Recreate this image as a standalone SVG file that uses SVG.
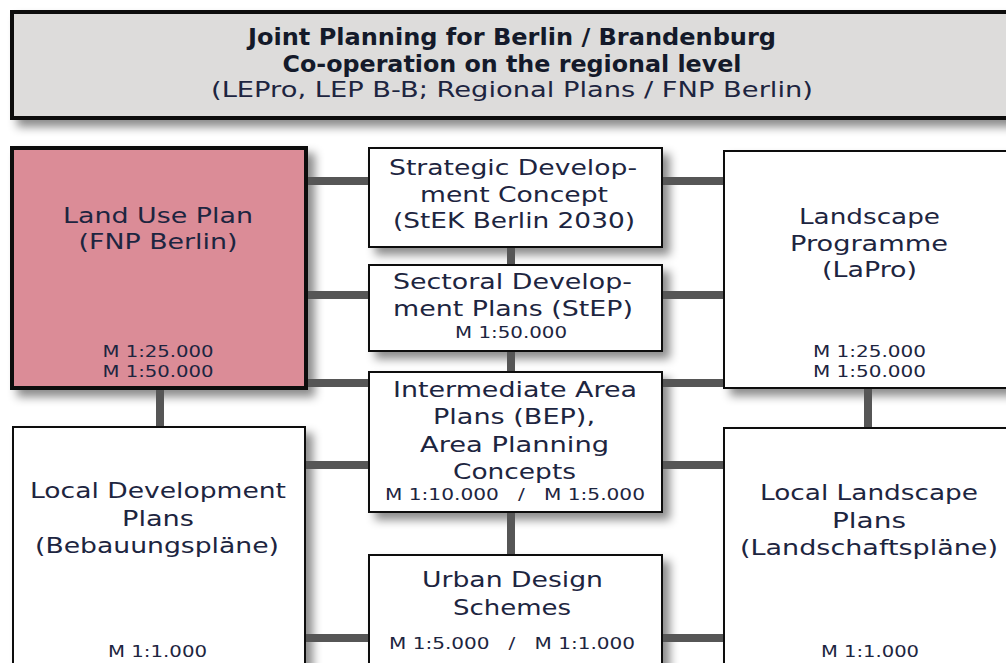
<svg xmlns="http://www.w3.org/2000/svg" width="1006" height="663" viewBox="0 0 1006 663">
  <defs>
    <filter id="shadow" x="-10%" y="-10%" width="130%" height="130%">
      <feDropShadow dx="7" dy="7" stdDeviation="5" flood-color="#000" flood-opacity="0.45"/>
    </filter>
    <style>
      .box { fill: #ffffff; stroke: #111111; stroke-width: 2; filter: url(#shadow); }
      .fnp { fill: #db8c97; stroke: #0a0a0a; stroke-width: 4; filter: url(#shadow); }
      .head { fill: #dddcdb; stroke: #0a0a0a; stroke-width: 4; filter: url(#shadow); }
      .t { font-family: "DejaVu Sans", "Noto Sans", sans-serif; font-size: 22px; fill: #1d2540; text-anchor: middle; }
      .s { font-family: "DejaVu Sans", "Noto Sans", sans-serif; font-size: 16px; fill: #1d2540; text-anchor: middle; white-space: pre; }
      .hb { font-family: "DejaVu Sans", "Noto Sans", sans-serif; font-size: 23px; font-weight: bold; fill: #141a2a; text-anchor: middle; }
      .hr { font-family: "DejaVu Sans", "Noto Sans", sans-serif; font-size: 21px; fill: #1d2540; text-anchor: middle; }
      .link { stroke: #565656; stroke-width: 8; fill: none; }
    </style>
  </defs>

  <rect width="1006" height="663" fill="#ffffff"/>

  <!-- Regional level header -->
  <g id="header">
    <rect class="head" x="12" y="12" width="1010" height="106"/>
    <text class="hb" x="512" y="45" textLength="528" lengthAdjust="spacingAndGlyphs">Joint Planning for Berlin / Brandenburg</text>
    <text class="hb" x="512" y="72" textLength="459" lengthAdjust="spacingAndGlyphs">Co-operation on the regional level</text>
    <text class="hr" x="512" y="97" textLength="602" lengthAdjust="spacingAndGlyphs">(LEPro, LEP B-B; Regional Plans / FNP Berlin)</text>
  </g>

  <!-- Left column -->
  <g id="fnp">
    <rect class="fnp" x="12" y="148" width="294" height="240"/>
    <text class="t" x="158" y="223" textLength="190" lengthAdjust="spacingAndGlyphs">Land Use Plan</text>
    <text class="t" x="158" y="249" textLength="159" lengthAdjust="spacingAndGlyphs">(FNP Berlin)</text>
    <text class="s" x="158" y="357" textLength="111" lengthAdjust="spacingAndGlyphs">M 1:25.000</text>
    <text class="s" x="158" y="377" textLength="111" lengthAdjust="spacingAndGlyphs">M 1:50.000</text>
  </g>

  <g id="bplan">
    <rect class="box" x="13" y="427" width="292" height="250"/>
    <text class="t" x="158" y="498" textLength="256" lengthAdjust="spacingAndGlyphs">Local Development</text>
    <text class="t" x="158" y="526" textLength="72" lengthAdjust="spacingAndGlyphs">Plans</text>
    <text class="t" x="157" y="553" textLength="244" lengthAdjust="spacingAndGlyphs">(Bebauungspläne)</text>
    <text class="s" x="157.5" y="657" textLength="99" lengthAdjust="spacingAndGlyphs">M 1:1.000</text>
  </g>

  <!-- Middle column -->
  <g id="stek">
    <rect class="box" x="369" y="148" width="293" height="99"/>
    <text class="t" x="513" y="175" textLength="248" lengthAdjust="spacingAndGlyphs">Strategic Develop-</text>
    <text class="t" x="514" y="202" textLength="188" lengthAdjust="spacingAndGlyphs">ment Concept</text>
    <text class="t" x="514" y="228" textLength="242" lengthAdjust="spacingAndGlyphs">(StEK Berlin 2030)</text>
  </g>

  <g id="step">
    <rect class="box" x="369" y="265" width="293" height="86"/>
    <text class="t" x="512.5" y="289" textLength="239" lengthAdjust="spacingAndGlyphs">Sectoral Develop-</text>
    <text class="t" x="513" y="316" textLength="240" lengthAdjust="spacingAndGlyphs">ment Plans (StEP)</text>
    <text class="s" x="511" y="338" textLength="112" lengthAdjust="spacingAndGlyphs">M 1:50.000</text>
  </g>

  <g id="bep">
    <rect class="box" x="369" y="372" width="293" height="140"/>
    <text class="t" x="515" y="397" textLength="244" lengthAdjust="spacingAndGlyphs">Intermediate Area</text>
    <text class="t" x="514" y="424" textLength="162" lengthAdjust="spacingAndGlyphs">Plans (BEP),</text>
    <text class="t" x="514.5" y="452" textLength="189" lengthAdjust="spacingAndGlyphs">Area Planning</text>
    <text class="t" x="514.5" y="479" textLength="123" lengthAdjust="spacingAndGlyphs">Concepts</text>
    <text class="s" x="515" y="500" textLength="260" lengthAdjust="spacingAndGlyphs">M 1:10.000   /   M 1:5.000</text>
  </g>

  <g id="urban">
    <rect class="box" x="369" y="555" width="293" height="130"/>
    <text class="t" x="512.5" y="587" textLength="181" lengthAdjust="spacingAndGlyphs">Urban Design</text>
    <text class="t" x="512" y="615" textLength="118" lengthAdjust="spacingAndGlyphs">Schemes</text>
    <text class="s" x="512" y="649" textLength="246" lengthAdjust="spacingAndGlyphs">M 1:5.000   /   M 1:1.000</text>
  </g>

  <!-- Right column -->
  <g id="lapro">
    <rect class="box" x="724" y="151" width="300" height="237"/>
    <text class="t" x="869.5" y="224" textLength="141" lengthAdjust="spacingAndGlyphs">Landscape</text>
    <text class="t" x="869" y="251" textLength="158" lengthAdjust="spacingAndGlyphs">Programme</text>
    <text class="t" x="869.5" y="277" textLength="95" lengthAdjust="spacingAndGlyphs">(LaPro)</text>
    <text class="s" x="869.5" y="357" textLength="113" lengthAdjust="spacingAndGlyphs">M 1:25.000</text>
    <text class="s" x="869.5" y="377" textLength="113" lengthAdjust="spacingAndGlyphs">M 1:50.000</text>
  </g>

  <g id="lplan">
    <rect class="box" x="724" y="428" width="300" height="250"/>
    <text class="t" x="869" y="500" textLength="218" lengthAdjust="spacingAndGlyphs">Local Landscape</text>
    <text class="t" x="869" y="528" textLength="74" lengthAdjust="spacingAndGlyphs">Plans</text>
    <text class="t" x="869" y="555" textLength="258" lengthAdjust="spacingAndGlyphs">(Landschaftspläne)</text>
    <text class="s" x="870" y="657" textLength="98" lengthAdjust="spacingAndGlyphs">M 1:1.000</text>
  </g>

  <!-- Connectors -->
  <g id="connectors">
    <!-- left column to middle column -->
    <line class="link" x1="308" y1="181" x2="368" y2="181"/>
    <line class="link" x1="308" y1="295" x2="368" y2="295"/>
    <line class="link" x1="308" y1="383" x2="368" y2="383"/>
    <line class="link" x1="306" y1="465" x2="368" y2="465"/>
    <line class="link" x1="306" y1="638" x2="368" y2="638"/>
    <!-- middle column to right column -->
    <line class="link" x1="663" y1="181" x2="723" y2="181"/>
    <line class="link" x1="663" y1="295" x2="723" y2="295"/>
    <line class="link" x1="663" y1="383" x2="723" y2="383"/>
    <line class="link" x1="663" y1="465" x2="723" y2="465"/>
    <line class="link" x1="663" y1="638" x2="723" y2="638"/>
    <!-- vertical links -->
    <line class="link" x1="511" y1="248" x2="511" y2="264"/>
    <line class="link" x1="511" y1="352" x2="511" y2="371"/>
    <line class="link" x1="511" y1="513" x2="511" y2="554"/>
    <line class="link" x1="160" y1="390" x2="160" y2="426"/>
    <line class="link" x1="868" y1="389" x2="868" y2="427"/>
  </g>
</svg>
